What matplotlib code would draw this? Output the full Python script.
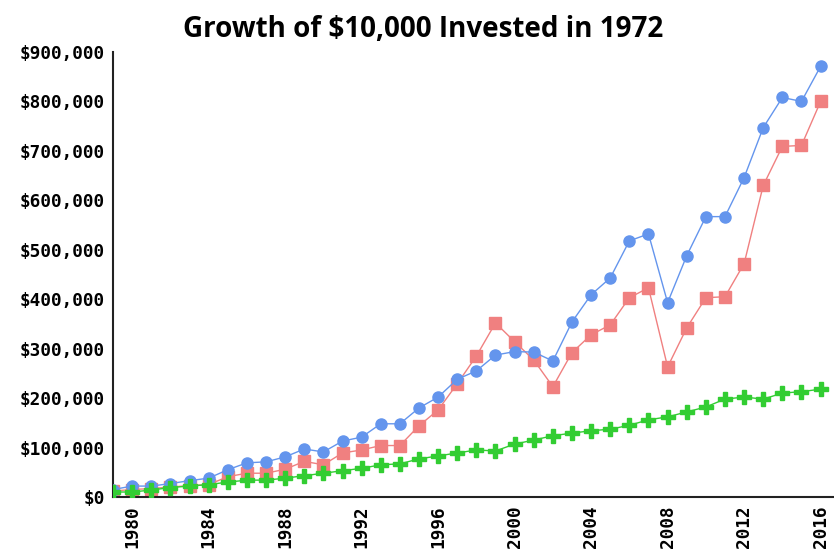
import matplotlib
matplotlib.use("Agg")
import matplotlib.pyplot as plt
from matplotlib.ticker import FuncFormatter

# yearly portfolio values, 1979-2016
years = list(range(1979, 2017))
fund_a = [15000, 22000, 22000, 27000, 33000, 38000, 55000, 69000, 71000, 81000,
          97000, 91000, 113000, 121000, 148000, 148000, 180000, 202000, 238000, 255000,
          287000, 294000, 293000, 275000, 354000, 409000, 443000, 518000, 532000, 393000,
          488000, 567000, 567000, 646000, 747000, 808000, 800000, 871000]
fund_b = [12000, 15000, 17000, 20000, 23000, 25000, 41000, 48000, 48000, 56000,
          72000, 65000, 89000, 95000, 104000, 104000, 144000, 176000, 229000, 285000,
          352000, 314000, 277000, 223000, 292000, 328000, 348000, 403000, 423000, 263000,
          342000, 403000, 405000, 472000, 630000, 709000, 711000, 800000]
fund_c = [10000, 10000, 14000, 19000, 22000, 25000, 30000, 34000, 34000, 38000,
          43000, 48000, 53000, 58000, 65000, 67000, 77000, 83000, 89000, 95000,
          93000, 107000, 115000, 124000, 129000, 134000, 137000, 145000, 156000, 162000,
          172000, 182000, 198000, 202000, 198000, 210000, 213000, 218000]
xticks = list(range(1980, 2017, 4))
yticks = list(range(0, 900001, 100000))

fig = plt.figure(figsize=(8.34, 5.59), dpi=100)
ax = fig.add_axes([0.1355, 0.111, 0.8645, 0.796])

ax.plot(years, fund_a, color='#6495ED', lw=1, marker='o', ms=8, mec='#6495ED', zorder=3)
ax.plot(years, fund_b, color='#F08080', lw=1, marker='s', ms=8, mec='#F08080', zorder=2)
ax.plot(years, fund_c, color='#32CD32', lw=1, marker='P', ms=10, mec='#32CD32', zorder=4)

ax.set_xlim(1979, 2016.7)
ax.set_ylim(0, 900000)
ax.set_xticks(xticks)
ax.set_yticks(yticks)
ax.yaxis.set_major_formatter(FuncFormatter(lambda v, p: '${:,.0f}'.format(v)))

for s in ['top', 'right']:
    ax.spines[s].set_visible(False)
for s in ['left', 'bottom']:
    ax.spines[s].set_linewidth(1.5)
    ax.spines[s].set_color('#222222')

ax.tick_params(length=0, pad=6)
for lab in ax.get_xticklabels() + ax.get_yticklabels():
    lab.set_fontfamily('DejaVu Sans Mono')
    lab.set_fontweight('bold')
    lab.set_fontsize(12.8)
for lab in ax.get_xticklabels():
    lab.set_rotation(90)

fig.suptitle('Growth of $10,000 Invested in 1972', x=0.507, y=0.974,
             fontsize=20, fontweight='bold', family='Open Sans')

plt.savefig('out.png', dpi=100)
